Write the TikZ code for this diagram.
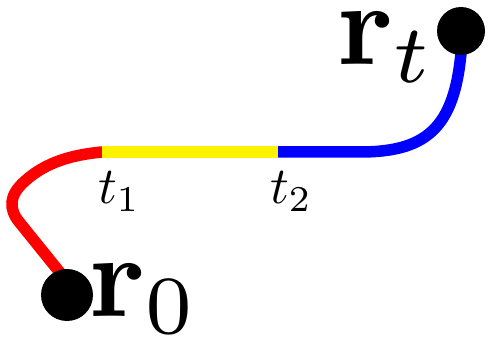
\documentclass[tikz,border=0pt]{standalone}
\begin{document}
\begin{tikzpicture}[x=1pt,y=-1pt,
  seg/.style={line width=11.5pt},
  dot/.style={circle,fill=black,inner sep=0pt,minimum size=#1},
  lab/.style={inner sep=0pt,anchor=base west}]
\useasboundingbox (0,0) rectangle (488,337);
\coordinate (p0) at (66,280);
\coordinate (t1) at (102,152);
\coordinate (t2) at (278,152);
\coordinate (pt) at (462,40);
\draw[seg,red,line cap=round] (p0) -- (20,223) .. controls (8,209) and (9,195) .. (25,181) .. controls (45,163) and (70,155) .. (t1);
\draw[seg,blue,line cap=round] (t2) -- (360,152) .. controls (430,152) and (457,125) .. (pt);
\draw[seg,yellow] (t1) -- (t2);
\node[dot=52pt] (r0) at (67,295) {};
\node[dot=48pt] (rt) at (461,31) {};
\node[lab] (r0lab) at (89,316) {\scalebox{11.8}{$\mathbf{r}_0$}};
\node[lab] (rtlab) at (337,65) {\scalebox{11.8}{$\mathbf{r}_t$}};
\node[lab] (t1lab) at (98,204) {\scalebox{5.2}{$t_1$}};
\node[lab] (t2lab) at (270,204) {\scalebox{5.2}{$t_2$}};
\end{tikzpicture}
\end{document}
